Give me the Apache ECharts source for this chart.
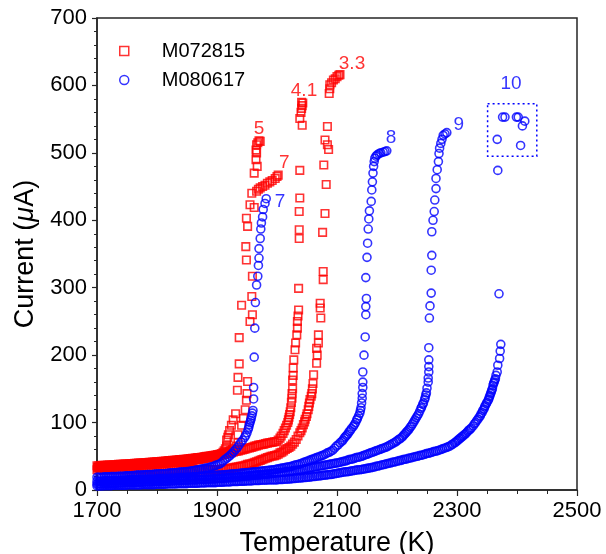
<!DOCTYPE html>
<html>
<head>
<meta charset="utf-8">
<script src="https://cdn.jsdelivr.net/npm/echarts@6/dist/echarts.min.js"></script>
<style>
html,body{margin:0;padding:0;background:#fff;}
#chart{width:606px;height:554px;}
</style>
</head>
<body>
<div id="chart"></div>
<script>
// ---------- DATA ----------
var xTicks = [1700, 1900, 2100, 2300, 2500];
var yTicks = [0, 100, 200, 300, 400, 500, 600, 700];
var seriesNames = ['M072815', 'M080617'];

// Red runs (M072815): [Temperature K, Current uA]
var red_run5 = [[1700,36],[1703,36],[1706,36],[1709,36.5],[1712,36.5],[1715,36.5],[1718,37],[1721,37],[1724,37],[1727,37.5],[1730,37.5],[1733,37.5],[1736,38],[1739,38],[1742,38],[1745,38.5],[1748,38.5],[1751,38.5],[1754,39],[1757,39],[1760,39],[1763,39.5],[1766,39.5],[1769,40],[1772,40],[1775,40],[1778,40.5],[1781,40.5],[1784,40.5],[1787,41],[1790,41],[1793,41.5],[1796,41.5],[1799,42],[1802,42],[1805,42],[1808,42.5],[1811,42.5],[1814,43],[1817,43],[1820,43.5],[1823,43.5],[1826,44],[1829,44],[1832,44.5],[1835,44.5],[1838,45],[1841,45],[1844,45.5],[1847,45.5],[1850,46],[1853,46],[1856,46.5],[1859,47],[1862,47],[1865,47.5],[1868,48],[1871,48],[1874,48.5],[1877,49],[1880,49.5],[1883,50],[1886,50],[1889,50.5],[1892,51],[1895,51.5],[1898,52],[1901,52.5],[1904,53],[1907,54],[1910,56],[1912,58],[1914,61],[1916,65],[1916,74],[1918,78],[1919,82],[1921,88],[1924,96],[1927,104],[1931,113],[1934,148],[1935,167],[1937,187],[1937,226],[1941,274],[1948,361],[1949,341],[1949,403],[1955,423],[1958,440],[1962,470],[1965,490],[1966,500],[1965,504],[1966,512],[1968,515],[1970,518],[1972,517],[1967,480]];
var red_run7 = [[1701,33],[1704,33],[1707,33],[1710,33.5],[1713,33.5],[1716,33.5],[1719,34],[1722,34],[1725,34],[1728,34.5],[1731,34.5],[1734,34.5],[1737,35],[1740,35],[1743,35],[1746,35.5],[1749,35.5],[1752,35.5],[1755,36],[1758,36],[1761,36],[1764,36.5],[1767,36.5],[1770,37],[1773,37],[1776,37],[1779,37.5],[1782,37.5],[1785,38],[1788,38],[1791,38],[1794,38.5],[1797,38.5],[1800,39],[1803,39],[1806,39.5],[1809,39.5],[1812,40],[1815,40],[1818,40.5],[1821,40.5],[1824,41],[1827,41],[1830,41.5],[1833,41.5],[1836,42],[1839,42],[1842,42.5],[1845,42.5],[1848,43],[1851,43],[1854,43.5],[1857,44],[1860,44],[1863,44.5],[1866,45],[1869,45],[1872,45.5],[1875,46],[1878,46.5],[1881,47],[1884,47.5],[1887,48],[1890,48.5],[1893,49],[1896,49.5],[1899,50],[1902,50.5],[1905,51],[1908,52],[1911,53],[1914,54],[1917,55.5],[1920,57],[1923,58.5],[1926,60],[1929,62],[1932,65],[1935,70],[1935,82],[1941,96],[1944,106],[1947,119],[1949,133],[1950,143],[1951,161],[1955,250],[1958,287],[1959,260],[1959,317],[1951,391],[1962,419],[1966,443],[1969,446],[1972,448],[1976,450],[1980,452],[1984,455],[1988,457],[1992,459],[1997,462],[2000,465],[2002,467]];
var red_run41 = [[1702,34],[1705,34],[1708,34.5],[1711,34.5],[1714,35],[1717,35],[1720,35],[1723,35.5],[1726,35.5],[1729,36],[1732,36],[1735,36],[1738,36.5],[1741,36.5],[1744,37],[1747,37],[1750,37],[1753,37.5],[1756,37.5],[1759,38],[1762,38],[1765,38],[1768,38.5],[1771,38.5],[1774,39],[1777,39],[1780,39],[1783,39.5],[1786,39.5],[1789,40],[1792,40],[1795,40.5],[1798,40.5],[1801,41],[1804,41],[1807,41.5],[1810,41.5],[1813,42],[1816,42],[1819,42.5],[1822,42.5],[1825,43],[1828,43],[1831,43.5],[1834,43.5],[1837,44],[1840,44],[1843,44.5],[1846,45],[1849,45],[1852,45.5],[1855,46],[1858,46],[1861,46.5],[1864,47],[1867,47],[1870,47.5],[1873,48],[1876,48],[1879,48.5],[1882,49],[1885,49.5],[1888,50],[1891,50],[1894,50.5],[1897,51],[1900,51.5],[1903,52],[1906,52.5],[1909,53],[1912,53.5],[1915,54],[1918,54.5],[1921,55],[1924,55.5],[1927,56],[1930,57],[1933,57.5],[1936,58],[1939,59],[1942,59.5],[1945,60],[1948,61],[1951,62],[1954,62.5],[1957,63],[1960,64],[1963,65],[1966,65.5],[1969,66.5],[1972,67],[1975,67.5],[1978,68],[1981,69],[1984,69.5],[1987,70],[1990,70.5],[1993,71],[1996,71.5],[1999,72],[2002,74],[2005,77],[2007,80],[2010,84],[2012,88],[2014,92],[2016,96],[2018,100],[2019,104],[2020,108],[2021,112],[2022,116],[2023,122],[2024,130],[2025,136],[2025,143],[2026,150],[2026,163],[2027,170],[2027,181],[2028,193],[2030,208],[2031,218],[2033,230],[2034,240],[2034,250],[2035,258],[2036,267],[2036,299],[2037,373],[2037,386],[2037,413],[2038,433],[2038,474],[2042,541],[2038,551],[2040,560],[2041,566],[2042,570],[2043,574],[2041,575]];
var red_run33 = [[1700,30],[1703,30],[1706,30],[1709,30],[1712,30],[1715,30],[1718,30],[1721,30],[1724,30],[1727,30],[1730,30],[1733,30],[1736,30],[1739,30],[1742,30],[1745,30],[1748,30],[1751,30],[1754,30],[1757,30],[1760,30],[1763,30],[1766,30],[1769,30],[1772,30],[1775,30],[1778,30],[1781,30],[1784,30],[1787,30],[1790,30],[1793,30],[1796,30],[1799,30],[1802,30],[1805,30],[1808,30],[1811,30],[1814,30],[1817,30],[1820,30],[1823,30],[1826,30],[1829,30],[1832,30],[1835,30],[1838,30],[1841,30],[1844,30],[1847,30],[1850,30],[1853,30],[1856,30],[1859,30],[1862,30],[1865,30],[1868,30],[1871,30],[1874,30],[1877,30],[1880,30],[1883,30],[1886,30],[1889,30],[1892,30],[1895,30],[1898,30],[1901,30],[1903,30.5],[1906,30.5],[1909,31],[1912,31],[1915,31.5],[1918,31.5],[1921,32],[1924,32.5],[1927,33],[1930,33.5],[1933,34],[1936,34.5],[1939,35],[1942,35.5],[1945,36],[1948,37],[1951,38],[1954,38.5],[1957,39],[1960,40],[1963,41],[1966,42],[1969,43],[1972,44],[1975,45],[1978,46],[1981,47],[1984,48],[1987,49],[1990,50],[1993,50.5],[1996,51],[1999,52],[2002,53],[2005,55],[2008,56],[2011,58],[2014,60],[2017,61.5],[2020,63],[2023,65],[2026,68],[2029,71],[2032,75],[2035,80],[2038,85],[2040,88],[2042,92],[2044,97],[2046,101],[2047,105],[2049,109],[2050,113],[2052,119],[2053,124],[2054,129],[2055,134],[2057,139],[2058,143],[2059,150],[2060,158],[2061,171],[2066,188],[2067,200],[2066,210],[2069,218],[2069,230],[2073,255],[2072,270],[2072,277],[2077,312],[2077,324],[2076,382],[2080,410],[2082,453],[2078,482],[2086,505],[2084,512],[2080,519],[2084,539],[2087,588],[2088,595],[2088,601],[2091,604],[2094,608],[2097,610],[2100,613],[2103,615],[2105,616]];

// Blue runs (M080617)
var blue_run7 = [[1700,19],[1703,19],[1706,19],[1709,19],[1712,19.5],[1715,19.5],[1718,19.5],[1721,19.5],[1724,20],[1727,20],[1730,20],[1733,20],[1736,20.5],[1739,20.5],[1742,20.5],[1745,20.5],[1748,21],[1751,21],[1754,21],[1757,21],[1760,21.5],[1763,21.5],[1766,22],[1769,22],[1772,22],[1775,22],[1778,22.5],[1781,22.5],[1784,23],[1787,23],[1790,23],[1793,23],[1796,23.5],[1799,23.5],[1802,24],[1805,24],[1808,24],[1811,24],[1814,24.5],[1817,24.5],[1820,25],[1823,25],[1826,25.5],[1829,25.5],[1832,26],[1835,26],[1838,26.5],[1841,26.5],[1844,27],[1847,27],[1850,27.5],[1853,27.5],[1856,28],[1859,28.5],[1862,29],[1865,29.5],[1868,30],[1871,30.5],[1874,31],[1877,31.5],[1880,32],[1883,32.5],[1886,33],[1889,34],[1892,34.5],[1895,35.5],[1898,36.5],[1901,37.5],[1904,38.5],[1907,40],[1910,42.5],[1913,45],[1916,47],[1919,49],[1922,51.5],[1925,54],[1928,57],[1931,60],[1934,63],[1937,67],[1940,71],[1943,74],[1946,78],[1948,81],[1950,85],[1952,90],[1953,93],[1954,97],[1955,100],[1956,103],[1957,106],[1958,110],[1959,114],[1960,118],[1961,135],[1961,152],[1962,197],[1963,240],[1964,278],[1966,304],[1968,317],[1969,333],[1970,344],[1970,358],[1972,373],[1973,387],[1974,396],[1976,405],[1977,416],[1980,425],[1982,432]];
var blue_run8 = [[1700,13],[1703,13],[1706,13],[1709,13],[1712,13.5],[1715,13.5],[1718,13.5],[1721,13.5],[1724,14],[1727,14],[1730,14],[1733,14],[1736,14],[1739,14.5],[1742,14.5],[1745,14.5],[1748,14.5],[1751,15],[1754,15],[1757,15],[1760,15],[1763,15],[1766,15],[1769,15.5],[1772,15.5],[1775,15.5],[1778,15.5],[1781,16],[1784,16],[1787,16],[1790,16],[1793,16],[1796,16],[1799,16.5],[1802,16.5],[1805,16.5],[1808,16.5],[1811,17],[1814,17],[1817,17],[1820,17],[1823,17.5],[1826,17.5],[1829,17.5],[1832,18],[1835,18],[1838,18],[1841,18.5],[1844,18.5],[1847,18.5],[1850,19],[1853,19],[1856,19],[1859,19.5],[1862,19.5],[1865,19.5],[1868,20],[1871,20],[1874,20],[1877,20.5],[1880,20.5],[1883,20.5],[1886,21],[1889,21],[1892,21],[1895,21.5],[1898,21.5],[1901,22],[1904,22],[1907,22],[1910,22.5],[1913,22.5],[1916,23],[1919,23],[1922,23.5],[1925,23.5],[1928,24],[1931,24],[1934,24.5],[1937,24.5],[1940,25],[1943,25],[1946,25.5],[1949,25.5],[1952,26],[1955,26],[1958,26.5],[1961,26.5],[1964,27],[1967,27],[1970,27.5],[1973,28],[1976,28],[1979,28.5],[1982,29],[1985,29],[1988,29.5],[1991,29.5],[1994,30],[1997,30.5],[2000,31],[2003,31.5],[2006,32],[2009,32.5],[2012,33],[2015,33.5],[2018,34],[2021,34.5],[2024,35],[2027,36],[2030,37],[2033,37.5],[2036,38],[2039,39],[2042,40],[2045,41],[2048,42],[2051,43],[2054,44],[2057,45],[2060,46],[2063,47],[2066,48],[2069,49],[2072,50],[2075,51],[2078,52],[2081,53.5],[2084,55],[2087,56],[2090,57.5],[2093,59],[2096,62],[2099,65],[2102,67],[2105,70],[2108,72],[2110,74],[2112,77],[2114,79],[2116,81],[2118,83],[2120,86],[2122,88],[2124,91],[2127,94],[2129,97],[2131,100],[2133,104],[2134,106],[2136,110],[2138,114],[2139,118],[2140,122],[2141,129],[2142,136],[2142,143],[2143,152],[2143,160],[2143,175],[2145,200],[2147,227],[2148,260],[2148,272],[2149,284],[2148,315],[2150,345],[2151,366],[2152,387],[2153,402],[2154,414],[2157,428],[2158,445],[2159,457],[2160,470],[2161,480],[2162,487],[2163,492],[2165,495],[2167,497],[2170,499],[2173,500],[2177,501],[2180,502],[2183,503]];
var blue_run9 = [[1700,9],[1703,9],[1706,9],[1709,9],[1712,9.5],[1715,9.5],[1718,9.5],[1721,9.5],[1724,10],[1727,10],[1730,10],[1733,10],[1736,10.5],[1739,10.5],[1742,10.5],[1745,10.5],[1748,11],[1751,11],[1754,11],[1757,11],[1760,11],[1763,11],[1766,11.5],[1769,11.5],[1772,11.5],[1775,11.5],[1778,12],[1781,12],[1784,12],[1787,12],[1790,12],[1793,12],[1796,12.5],[1799,12.5],[1802,12.5],[1805,12.5],[1808,13],[1811,13],[1814,13],[1817,13],[1820,13.5],[1823,13.5],[1826,13.5],[1829,13.5],[1832,14],[1835,14],[1838,14],[1841,14],[1844,14.5],[1847,14.5],[1850,14.5],[1853,14.5],[1856,15],[1859,15],[1862,15],[1865,15],[1868,15.5],[1871,15.5],[1874,15.5],[1877,15.5],[1880,16],[1883,16],[1886,16],[1889,16],[1892,16.5],[1895,16.5],[1898,16.5],[1901,17],[1904,17],[1907,17],[1910,17.5],[1913,17.5],[1916,18],[1919,18],[1922,18.5],[1925,18.5],[1928,19],[1931,19],[1934,19.5],[1937,19.5],[1940,20],[1943,20],[1946,20.5],[1949,20.5],[1952,21],[1955,21],[1958,21.5],[1961,21.5],[1964,22],[1967,22],[1970,22.5],[1973,22.5],[1976,23],[1979,23],[1982,23.5],[1985,23.5],[1988,24],[1991,24],[1994,24.5],[1997,25],[2000,25.5],[2003,25.5],[2006,26],[2009,26],[2012,26.5],[2015,27],[2018,27.5],[2021,27.5],[2024,28],[2027,28.5],[2030,29],[2033,29],[2036,29.5],[2039,30],[2042,30.5],[2045,31],[2048,31.5],[2051,32],[2054,32.5],[2057,33],[2060,33.5],[2063,34],[2066,34.5],[2069,35],[2072,35.5],[2075,36],[2078,36.5],[2081,37],[2084,37.5],[2087,38],[2090,38.5],[2093,39],[2096,39.5],[2099,40],[2102,40.5],[2105,41],[2108,42],[2111,42.5],[2114,43],[2117,44],[2120,45],[2123,45.5],[2126,46],[2129,47],[2132,48],[2135,48.5],[2138,49],[2141,50],[2144,51],[2147,52],[2150,53],[2153,54],[2156,55],[2159,56],[2162,57],[2165,58],[2168,59],[2171,60],[2174,61],[2177,62],[2180,63],[2183,64],[2186,65.5],[2189,67],[2192,68.5],[2195,70],[2198,71.5],[2200,73],[2203,75],[2205,76],[2208,78],[2210,80],[2212,82],[2214,84],[2216,86],[2218,88],[2220,90],[2222,93],[2224,95],[2226,98],[2228,101],[2230,104],[2232,107],[2234,110],[2236,113],[2238,117],[2240,121],[2241,123],[2243,127],[2244,129],[2246,134],[2247,137],[2248,141],[2249,144],[2250,151],[2252,160],[2252,166],[2253,175],[2253,183],[2253,193],[2253,211],[2254,255],[2255,273],[2257,292],[2257,326],[2258,348],[2258,383],[2260,400],[2262,413],[2263,430],[2265,447],[2265,462],[2267,475],[2269,487],[2270,499],[2271,507],[2273,514],[2275,520],[2277,526],[2280,528],[2283,530]];
var blue_run10 = [[1700,6],[1703,6],[1706,6],[1709,6],[1712,6.5],[1715,6.5],[1718,6.5],[1721,6.5],[1724,6.5],[1727,7],[1730,7],[1733,7],[1736,7],[1739,7],[1742,7],[1745,7],[1748,7],[1751,7.5],[1754,7.5],[1757,7.5],[1760,7.5],[1763,7.5],[1766,7.5],[1769,7.5],[1772,7.5],[1775,8],[1778,8],[1781,8],[1784,8],[1787,8],[1790,8],[1793,8],[1796,8],[1799,8.5],[1802,8.5],[1805,8.5],[1808,8.5],[1811,8.5],[1814,8.5],[1817,9],[1820,9],[1823,9],[1826,9],[1829,9],[1832,9],[1835,9.5],[1838,9.5],[1841,9.5],[1844,9.5],[1847,9.5],[1850,9.5],[1853,10],[1856,10],[1859,10],[1862,10],[1865,10],[1868,10],[1871,10.5],[1874,10.5],[1877,10.5],[1880,10.5],[1883,11],[1886,11],[1889,11],[1892,11],[1895,11],[1898,11],[1901,11.5],[1904,11.5],[1907,11.5],[1910,11.5],[1913,12],[1916,12],[1919,12],[1922,12],[1925,12.5],[1928,12.5],[1931,12.5],[1934,12.5],[1937,13],[1940,13],[1943,13],[1946,13],[1949,13.5],[1952,13.5],[1955,13.5],[1958,13.5],[1961,14],[1964,14],[1967,14],[1970,14],[1973,14.5],[1976,14.5],[1979,14.5],[1982,14.5],[1985,15],[1988,15],[1991,15],[1994,15],[1997,15],[2000,15],[2003,15.5],[2006,15.5],[2009,15.5],[2012,16],[2015,16],[2018,16],[2021,16.5],[2024,16.5],[2027,17],[2030,17],[2033,17.5],[2036,17.5],[2039,18],[2042,18],[2045,18.5],[2048,18.5],[2051,19],[2054,19],[2057,19.5],[2060,20],[2063,20],[2066,20.5],[2069,21],[2072,21],[2075,21.5],[2078,22],[2081,22],[2084,22.5],[2087,23],[2090,23],[2093,23.5],[2096,24],[2099,24.5],[2102,25],[2105,25.5],[2108,26],[2111,26.5],[2114,27],[2117,27],[2120,27.5],[2123,28],[2126,28.5],[2129,29],[2132,29.5],[2135,30],[2138,30],[2141,30.5],[2144,31],[2147,31.5],[2150,32],[2153,32.5],[2156,33],[2159,33.5],[2162,34],[2165,35],[2168,35.5],[2171,36],[2174,37],[2177,37.5],[2180,38],[2183,39],[2186,39.5],[2189,40],[2192,41],[2195,41.5],[2198,42],[2201,43],[2204,43.5],[2207,44],[2210,45],[2213,45.5],[2216,46],[2219,47],[2222,47.5],[2225,48],[2228,49],[2231,49.5],[2234,50],[2237,51],[2240,51.5],[2243,52],[2246,53],[2249,54],[2252,54.5],[2255,55],[2258,56],[2261,57],[2264,57.5],[2267,58],[2270,59],[2273,60],[2276,61],[2279,62],[2282,63],[2285,64],[2288,65],[2291,67],[2293,68],[2296,70],[2298,71],[2300,73],[2302,74],[2304,76],[2306,77],[2308,79],[2310,80],[2312,82],[2314,83],[2316,85],[2318,87],[2320,89],[2322,90],[2324,92],[2327,95],[2329,98],[2331,100],[2333,103],[2335,105],[2337,108],[2339,110],[2340,113],[2342,115],[2343,118],[2345,120],[2346,123],[2347,125],[2349,128],[2350,130],[2352,133],[2353,135],[2354,138],[2355,140],[2356,143],[2357,145],[2358,148],[2359,150],[2360,155],[2361,158],[2362,160],[2363,163],[2364,165],[2365,170],[2367,175],[2368,185],[2371,195],[2372,206],[2373,216],[2370,291],[2368,474],[2367,520],[2376,553],[2380,553],[2399,553],[2402,553],[2413,547],[2409,540],[2406,511]];

// Run labels: [text, temperature, current]
var redLabels = [['5',1970,536],['7',2012,486],['4.1',2045,592],['3.3',2125,632]];
var blueLabels = [['7',2005,428],['8',2190,523],['9',2303,542],['10',2390,603]];
// Dotted box around run 10 plateau: [[T1, I1], [T2, I2]]
var boxRun10 = [[2351,573],[2433,495]];

// ---------- CHART ----------
var RED = '#ff0000', BLUE = '#0000ff', AX = '#262626';
var FONT = "'Liberation Sans', Arial, sans-serif";
var redData = red_run5.concat(red_run7, red_run41, red_run33);
var blueData = blue_run7.concat(blue_run8, blue_run9, blue_run10);
function lab(arr){ return arr.map(function(a){ return {value:[a[1],a[2]], name:a[0]}; }); }

var chart = echarts.init(document.getElementById('chart'), null, {renderer:'canvas'});
chart.setOption({
  animation: false,
  backgroundColor: '#fff',
  grid: {left: 97, right: 29, top: 18, bottom: 64, show: true, borderColor: AX, borderWidth: 1.5,
    backgroundColor: 'transparent', containLabel: false, outerBoundsMode: 'none'},
  legend: {
    orient: 'vertical', left: 114, top: 36, itemWidth: 9, itemHeight: 9, itemGap: 9,
    data: [
      {name: seriesNames[0], icon: 'rect', itemStyle: {color: 'rgba(0,0,0,0)', borderColor: RED, borderWidth: 1.5}},
      {name: seriesNames[1], icon: 'circle', itemStyle: {color: 'rgba(0,0,0,0)', borderColor: BLUE, borderWidth: 1.5}}
    ],
    textStyle: {fontSize: 20, color: '#000', fontFamily: FONT, padding: [0,0,0,28], lineHeight: 20}
  },
  xAxis: {
    type: 'value', min: 1700, max: 2500, interval: 200,
    name: 'Temperature (K)', nameLocation: 'middle', nameGap: 40,
    nameTextStyle: {fontSize: 27, color: '#000', fontFamily: FONT},
    axisLine: {show: true, lineStyle: {color: AX, width: 1.5}},
    axisTick: {show: true, inside: false, length: 6, lineStyle: {color: AX, width: 1.2}},
    minorTick: {show: true, splitNumber: 4, length: 4, lineStyle: {color: AX, width: 1}},
    splitLine: {show: false},
    axisLabel: {fontSize: 22, color: '#000', fontFamily: FONT, margin: 10, showMaxLabel: true, showMinLabel: true,
      formatter: function(v){ return xTicks.indexOf(v) >= 0 ? String(v) : ''; }}
  },
  yAxis: {
    type: 'value', min: 0, max: 700, interval: 100,
    name: '{n|Current (}{i|μ}{n|A)}', nameLocation: 'middle', nameGap: 44, nameRotate: 90,
    nameTextStyle: {fontSize: 27, color: '#000', fontFamily: FONT,
      rich: {n: {fontSize: 27, color: '#000', fontFamily: FONT}, i: {fontSize: 27, color: '#000', fontFamily: FONT, fontStyle: 'italic'}}},
    axisLine: {show: true, lineStyle: {color: AX, width: 1.5}},
    axisTick: {show: true, inside: false, length: 5, lineStyle: {color: AX, width: 1.2}},
    minorTick: {show: true, splitNumber: 5, length: 3, lineStyle: {color: AX, width: 1}},
    splitLine: {show: false},
    axisLabel: {fontSize: 22, color: '#000', fontFamily: FONT, margin: 10,
      formatter: function(v){ return yTicks.indexOf(v) >= 0 ? String(v) : ''; }}
  },
  series: [
    {
      name: seriesNames[0], type: 'scatter', symbol: 'rect', symbolSize: 7.5, data: redData,
      itemStyle: {color: 'rgba(0,0,0,0)', borderColor: RED, borderWidth: 1.6},
      emphasis: {disabled: true}, z: 2, large: false
    },
    {
      name: seriesNames[1], type: 'scatter', symbol: 'circle', symbolSize: 8, data: blueData,
      itemStyle: {color: 'rgba(0,0,0,0)', borderColor: BLUE, borderWidth: 1.6},
      emphasis: {disabled: true}, z: 3, large: false,
      markArea: {
        silent: true,
        itemStyle: {color: 'rgba(0,0,0,0)', borderColor: BLUE, borderWidth: 1.5, borderType: [2,3]},
        data: [[{coord: boxRun10[0]}, {coord: boxRun10[1]}]]
      }
    },
    {
      name: 'redLabels', type: 'scatter', symbolSize: 0, data: lab(redLabels), z: 5, silent: true,
      label: {show: true, position: 'inside', formatter: '{b}', color: RED, fontSize: 19, fontFamily: FONT}
    },
    {
      name: 'blueLabels', type: 'scatter', symbolSize: 0, data: lab(blueLabels), z: 5, silent: true,
      label: {show: true, position: 'inside', formatter: '{b}', color: BLUE, fontSize: 19, fontFamily: FONT}
    }
  ]
});
</script>
</body>
</html>
